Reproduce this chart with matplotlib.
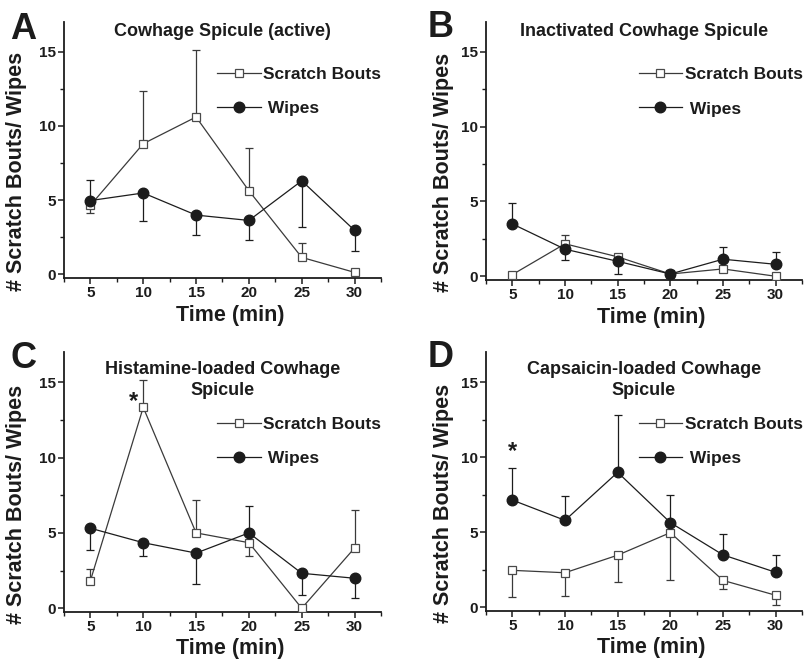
"""
Scratch bouts and wipes over time after cowhage spicule application.

Four panels: active spicule, inactivated spicule, histamine-loaded spicule
and capsaicin-loaded spicule. Means are drawn with one-sided SEM bars.

Usage:
    python plot.py [--outfile OUTFILE]
"""

import argparse

import matplotlib

matplotlib.use("Agg")
import matplotlib.pyplot as plt
from matplotlib.ticker import MultipleLocator

# time points (min)
TIME = [5, 10, 15, 20, 25, 30]

# A - cowhage spicule (active)
A_SCRATCH = [4.65, 8.8, 10.6, 5.63, 1.14, 0.13]
A_SCRATCH_LO = [0.53, 0, 0, 0, 0, 0]
A_SCRATCH_HI = [0, 3.56, 4.5, 2.9, 1.0, 0.15]
A_WIPES = [4.97, 5.48, 3.99, 3.63, 6.3, 2.96]
A_WIPES_LO = [0, 1.92, 1.34, 1.34, 3.12, 1.38]
A_WIPES_HI = [1.4, 0, 0, 0, 0, 0]

# B - inactivated cowhage spicule
B_SCRATCH = [0.11, 2.17, 1.3, 0.15, 0.49, 0.0]
B_SCRATCH_LO = [0, 0, 0, 0, 0.2, 0]
B_SCRATCH_HI = [0, 0.6, 0, 0, 0, 0]
B_WIPES = [3.5, 1.81, 1.0, 0.15, 1.14, 0.8]
B_WIPES_LO = [0, 0.72, 0.84, 0, 0, 0]
B_WIPES_HI = [1.37, 0, 0, 0, 0.82, 0.85]

# C - histamine-loaded cowhage spicule
C_SCRATCH = [1.83, 13.33, 5.0, 4.35, 0.0, 4.0]
C_SCRATCH_LO = [0, 0, 0, 0.91, 0, 0]
C_SCRATCH_HI = [0.8, 1.8, 2.17, 0, 0, 2.52]
C_WIPES = [5.31, 4.35, 3.66, 5.0, 2.32, 1.99]
C_WIPES_LO = [1.43, 0.91, 2.08, 0, 1.47, 1.28]
C_WIPES_HI = [0, 0, 0, 1.8, 0, 0]

# D - capsaicin-loaded cowhage spicule
D_SCRATCH = [2.46, 2.3, 3.47, 4.97, 1.79, 0.8]
D_SCRATCH_LO = [1.77, 1.56, 1.77, 3.16, 0.58, 0.67]
D_SCRATCH_HI = [0, 0, 0, 0, 0, 0]
D_WIPES = [7.14, 5.79, 8.99, 5.64, 3.49, 2.33]
D_WIPES_LO = [0, 0, 0, 0, 0, 0]
D_WIPES_HI = [2.14, 1.59, 3.81, 1.81, 1.41, 1.16]

# panel titles, one entry per line
TITLES = [
    ["Cowhage Spicule (active)"],
    ["Inactivated Cowhage Spicule"],
    ["Histamine-loaded Cowhage", "Spicule"],
    ["Capsaicin-loaded Cowhage", "Spicule"],
]
LETTERS = ["A", "B", "C", "D"]
# significance marks: (time, y)
STARS = [None, None, (9.1, 13.7), (5, 10.35)]

INK = "#1c1c1c"
LINE = "#3a3a3a"


def draw_panel(ax, scratch, s_err, wipes, w_err, title, title_y, leg_y, star):
    """Draw one panel with both series, error bars and legend."""
    ax.errorbar(TIME, scratch, yerr=s_err, fmt="none", ecolor=LINE,
                elinewidth=0.9, capsize=2.8, capthick=0.9, zorder=2)
    ax.errorbar(TIME, wipes, yerr=w_err, fmt="none", ecolor=INK,
                elinewidth=0.9, capsize=2.8, capthick=0.9, zorder=2)
    ax.plot(TIME, scratch, color=LINE, lw=0.9, marker="s", ms=5.3,
            mfc="white", mec="#4a4a4a", mew=0.9, label="Scratch Bouts",
            zorder=3)
    ax.plot(TIME, wipes, color=INK, lw=0.9, marker="o", ms=7.6,
            mfc=INK, mec=INK, label=" Wipes", zorder=4)

    ax.set_xlim(2.5, 32.5)
    ax.set_ylim(-0.25, 17)
    ax.xaxis.set_major_locator(MultipleLocator(5))
    ax.xaxis.set_minor_locator(MultipleLocator(2.5))
    ax.yaxis.set_major_locator(MultipleLocator(5))
    ax.yaxis.set_minor_locator(MultipleLocator(2.5))
    ax.spines["top"].set_visible(False)
    ax.spines["right"].set_visible(False)
    for side in ["left", "bottom"]:
        ax.spines[side].set_linewidth(1.3)
        ax.spines[side].set_color(INK)
    ax.tick_params(which="major", direction="out", length=4, width=1.1,
                   color=INK, labelsize=11, pad=2, labelcolor=INK)
    ax.tick_params(which="minor", direction="out", length=3, width=1.0,
                   color=INK)
    for lab in ax.get_xticklabels() + ax.get_yticklabels():
        lab.set_fontweight("bold")

    ax.set_xlabel("Time (min)", fontsize=15.5, fontweight="bold", color=INK)
    ax.set_ylabel("# Scratch Bouts/ Wipes", fontsize=15.5,
                  fontweight="bold", color=INK)

    # title lines drawn separately so each box hugs its own text
    for k, line in enumerate(title):
        ax.text(0.5, title_y - k * 0.082, line, transform=ax.transAxes,
                ha="center", va="top", fontsize=13, fontweight="bold",
                color=INK)

    if star is not None:
        ax.text(star[0], star[1], "*", ha="center", va="center",
                fontsize=17, fontweight="bold", color=INK)

    ax.legend(loc="upper left", bbox_to_anchor=(0.483, leg_y),
              frameon=False, borderpad=0, borderaxespad=0,
              handlelength=2.5, handletextpad=0.15, labelspacing=1.1,
              prop={"weight": "bold", "size": 12.5}, labelcolor=INK)


def main(outfile, show=False):
    plt.rcParams["font.family"] = ["Liberation Sans", "DejaVu Sans"]

    fig = plt.figure(figsize=(8.06, 6.61), dpi=100)

    positions = [
        [0.0794, 0.5794, 0.3933, 0.3873],
        [0.6030, 0.5764, 0.3920, 0.3903],
        [0.0794, 0.0741, 0.3933, 0.3933],
        [0.6030, 0.0756, 0.3920, 0.3918],
    ]
    series = [
        (A_SCRATCH, [A_SCRATCH_LO, A_SCRATCH_HI], A_WIPES,
         [A_WIPES_LO, A_WIPES_HI]),
        (B_SCRATCH, [B_SCRATCH_LO, B_SCRATCH_HI], B_WIPES,
         [B_WIPES_LO, B_WIPES_HI]),
        (C_SCRATCH, [C_SCRATCH_LO, C_SCRATCH_HI], C_WIPES,
         [C_WIPES_LO, C_WIPES_HI]),
        (D_SCRATCH, [D_SCRATCH_LO, D_SCRATCH_HI], D_WIPES,
         [D_WIPES_LO, D_WIPES_HI]),
    ]
    title_ys = [0.995, 0.995, 0.965, 0.965]
    leg_ys = [0.825, 0.825, 0.75, 0.75]
    ylabel_x = [-0.117, -0.101, -0.117, -0.101]
    xlabel_y = [-0.105, -0.105, -0.1, -0.1]
    letter_pos = [(10, 39), (428, 37), (10, 368), (428, 367)]

    for i, pos in enumerate(positions):
        ax = fig.add_axes(pos)
        scratch, s_err, wipes, w_err = series[i]
        draw_panel(ax, scratch, s_err, wipes, w_err, TITLES[i],
                   title_ys[i], leg_ys[i], STARS[i])
        ax.yaxis.set_label_coords(ylabel_x[i], 0.415)
        ax.xaxis.set_label_coords(0.523, xlabel_y[i])
        fig.text(letter_pos[i][0] / 806, 1 - letter_pos[i][1] / 661,
                 LETTERS[i], ha="left", va="baseline", fontsize=26,
                 fontweight="bold", color=INK)

    fig.savefig(outfile, dpi=100)
    if show:
        plt.show()


if __name__ == "__main__":
    parser = argparse.ArgumentParser(description=__doc__)
    parser.add_argument("--outfile", type=str, default="out.png",
                        help="name of the file to save the figure")
    args = parser.parse_args()
    main(outfile=args.outfile)
